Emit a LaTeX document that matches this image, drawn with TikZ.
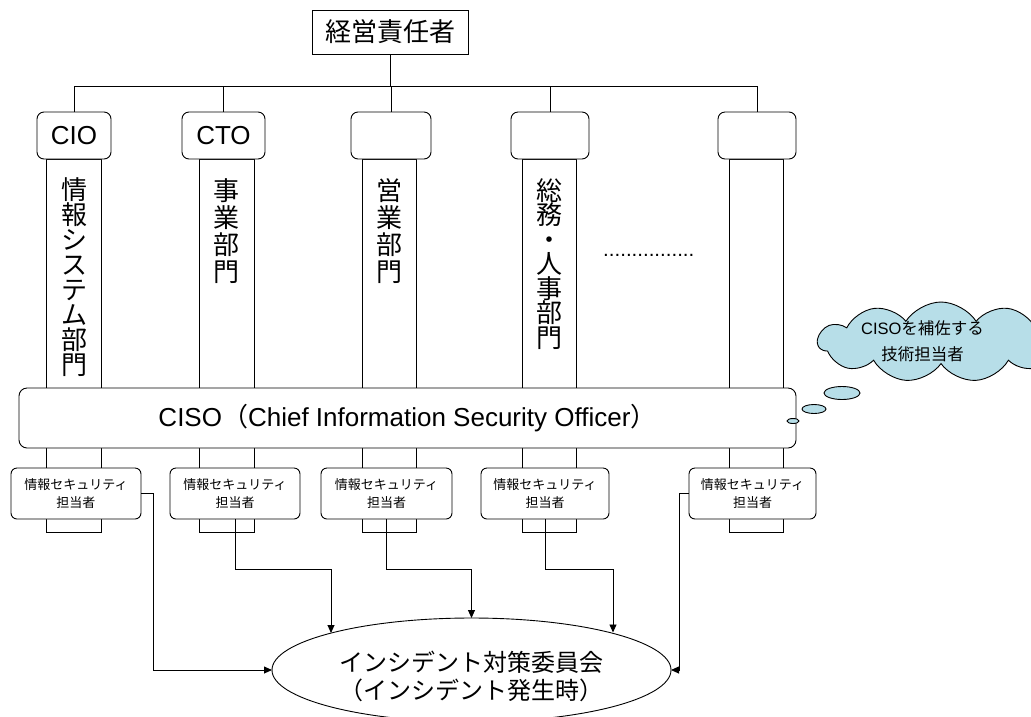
\documentclass[tikz,border=0pt]{standalone}
\usepackage{fontspec}
\setmainfont{Liberation Sans}
\newfontfamily\jp{Noto Sans CJK JP}
\usetikzlibrary{shapes.geometric,shapes.symbols,arrows.meta}
\definecolor{cloudblue}{HTML}{B7DEE8}
\begin{document}
\begin{tikzpicture}[x=1pt,y=-1pt,
  line/.style={draw=black,line width=0.9pt},
  topbox/.style={line, rounded corners=7pt, fill=white, inner sep=0pt, minimum height=47pt, font=\fontsize{26}{26}\selectfont},
  pillar/.style={line, fill=white, minimum width=55pt, minimum height=373pt, inner sep=0pt},
  vtext/.style={anchor=north, align=center, inner sep=0pt, font=\jp\fontsize{26}{#1}\selectfont},
  sbox/.style={line, rounded corners=6pt, fill=white, minimum width=130pt, minimum height=51pt, inner sep=0pt, align=center, font=\jp\fontsize{13}{18}\selectfont},
  arr/.style={line, -{Triangle[length=8pt,width=7pt]}},
  bubble/.style={ellipse, line, fill=cloudblue, inner sep=0pt}
]
\useasboundingbox (0,0) rectangle (1031,716);

% top executive
\node[line, fill=white, minimum width=156pt, minimum height=44pt, inner sep=0pt, font=\jp\fontsize{26}{26}\selectfont] (ceo) at (390,32) {経営責任者};

% pillars
\node[pillar] (c1) at (73.5,345.5) {};
\node[pillar] (c2) at (226.5,345.5) {};
\node[pillar, minimum width=54pt] (c3) at (389,345.5) {};
\node[pillar, minimum width=54pt] (c4) at (549,345.5) {};
\node[pillar, minimum width=54pt] (c5) at (756,345.5) {};

% top boxes
\node[topbox, minimum width=74pt] (t1) at (74,135.5) {CIO};
\node[topbox, minimum width=83pt] (t2) at (223.5,135.5) {CTO};
\node[topbox, minimum width=80pt] (t3) at (391,135.5) {};
\node[topbox, minimum width=78pt] (t4) at (550,135.5) {};
\node[topbox, minimum width=78pt] (t5) at (757,135.5) {};

% connectors from top
\coordinate (hl) at (74,86);
\draw[line] (ceo.south) -- (ceo.south |- hl);
\draw[line] (t1.north |- hl) -- (t5.north |- hl);
\foreach \t in {t1,t2,t3,t4,t5} {\draw[line] (\t.north) -- (\t.north |- hl);}

% vertical texts
\node[vtext=25] (v1) at (74,177) {情\\報\\シ\\ス\\テ\\ム\\部\\門};
\node[vtext=27] (v2) at (226.5,178) {事\\業\\部\\門};
\node[vtext=27] (v3) at (389,178) {営\\業\\部\\門};
\node[vtext=24.5] (v4) at (549,178) {総\\務\\・\\人\\事\\部\\門};

% dots
\node[anchor=base west, inner sep=0pt, font=\fontsize{20.5}{20.5}\selectfont] (dots) at (603,256) {................};

% CISO
\node[line, rounded corners=8pt, fill=white, minimum width=777pt, minimum height=60pt, inner sep=0pt, font=\fontsize{26}{26}\selectfont] (ciso) at (407.5,418) {CISO{\jp （}Chief Information Security Officer{\jp ）}};

% security persons
\node[sbox] (p1) at (76,493.5) {情報セキュリティ\\担当者};
\node[sbox] (p2) at (235,493.5) {情報セキュリティ\\担当者};
\node[sbox, minimum width=131pt] (p3) at (386.5,493.5) {情報セキュリティ\\担当者};
\node[sbox, minimum width=128pt] (p4) at (545,493.5) {情報セキュリティ\\担当者};
\node[sbox, minimum width=127pt] (p5) at (752.5,493.5) {情報セキュリティ\\担当者};

% incident committee
\node[ellipse, line, minimum width=399pt, minimum height=104pt, inner sep=0pt, outer sep=0pt] (ell) at (471.5,670) {};
\node[align=center, inner sep=0pt, font=\jp\fontsize{24}{28}\selectfont] (ellt) at (471.5,676) {インシデント対策委員会\\（インシデント発生時）};
\coordinate (e2) at (331,633);
\coordinate (e4) at (613,632.5);

% arrows
\draw[arr] (p1.east) -- ++(12,0) |- (ell.west);
\draw[arr] (p2.south) -- ++(0,50) -| (e2);
\draw[arr] (p3.south) -- ++(0,50) -| (ell.north);
\draw[arr] (p4.south) -- ++(0,50) -| (e4);
\draw[arr] (p5.west) -- ++(-9,0) |- (ell.east);

% thought cloud
\node[cloud, cloud puffs=11, cloud puff arc=115, aspect=3, line, fill=cloudblue, minimum width=246pt, minimum height=80pt, inner sep=0pt] (cl) at (941,342) {};
\node[align=center, inner sep=0pt, font=\fontsize{16.5}{26}\selectfont] (clt) at (922.5,341) {CISO{\jp を補佐する}\\{\jp 技術担当者}};
\node[bubble, minimum width=36pt, minimum height=13pt] (b1) at (842,393) {};
\node[bubble, minimum width=24pt, minimum height=9pt] (b2) at (814,409) {};
\node[bubble, minimum width=12pt, minimum height=5pt] (b3) at (793,421) {};
\end{tikzpicture}
\end{document}
